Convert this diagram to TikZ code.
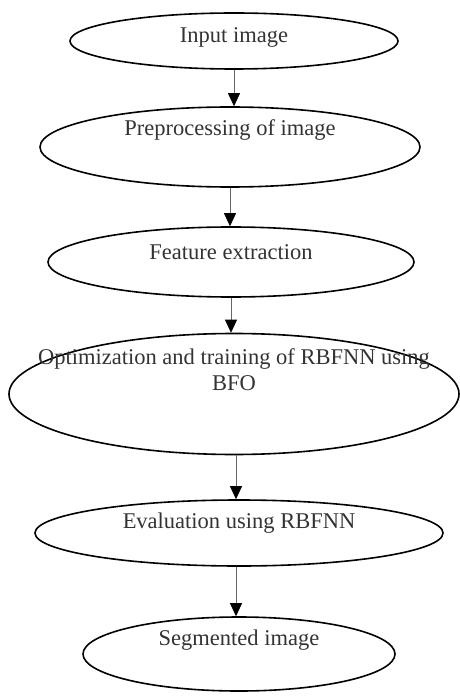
\documentclass[tikz,border=0pt]{standalone}
\usepackage{fontspec}
\setmainfont{Liberation Serif}
\usetikzlibrary{shapes.geometric, arrows.meta, positioning}
\tikzset{
oval/.style={ellipse, draw, line width=1.6pt, inner sep=0pt}, % the process ovals
lbl/.style={font=\fontsize{22.5}{26}\selectfont, text=black!80, align=center, inner sep=0pt}, % text inside the ovals
flow/.style={-{Triangle[width=12pt,length=13pt,color=black]}, line width=0.8pt, draw=black!60}, % arrows between steps
}

\begin{document}
\begin{tikzpicture}[x=1pt, y=-1pt]
    \useasboundingbox (0,0) rectangle (459,700);
    % ovals
    \node[oval, minimum width=328pt, minimum height=56pt] (inp) at (234,41) {};
    \node[oval, minimum width=380pt, minimum height=80pt] (pre) at (230,147) {};
    \node[oval, minimum width=366pt, minimum height=70pt] (feat) at (231,262) {};
    \node[oval, minimum width=450pt, minimum height=121pt] (opt) at (234,394) {};
    \node[oval, minimum width=408pt, minimum height=66pt] (eval) at (239,533) {};
    \node[oval, minimum width=312pt, minimum height=74pt] (seg) at (239,654) {};
    % texts
    \node[lbl] (inp-t) at ([yshift=4pt]inp.center) {Input image};
    \node[lbl] (pre-t) at ([yshift=17pt]pre.center) {Preprocessing of image};
    \node[lbl] (feat-t) at ([yshift=10pt]feat.center) {Feature extraction};
    \node[lbl] (opt-t) at ([yshift=24pt]opt.center) {Optimization and training of RBFNN using\\BFO};
    \node[lbl] (eval-t) at ([yshift=10pt]eval.center) {Evaluation using RBFNN};
    \node[lbl] (seg-t) at ([yshift=14pt]seg.center) {Segmented image};
    % arrows
    \draw[flow] (inp) -- (inp |- pre.north);
    \draw[flow] (pre) -- (pre |- feat.north);
    \draw[flow] (feat) -- (feat |- opt.north);
    \draw[flow] ([xshift=2pt]opt.south) -- ([xshift=2pt]opt.south |- eval.north);
    \draw[flow] ([xshift=-3pt]eval.south) -- ([xshift=-3pt]eval.south |- seg.north);
\end{tikzpicture}
\end{document}
